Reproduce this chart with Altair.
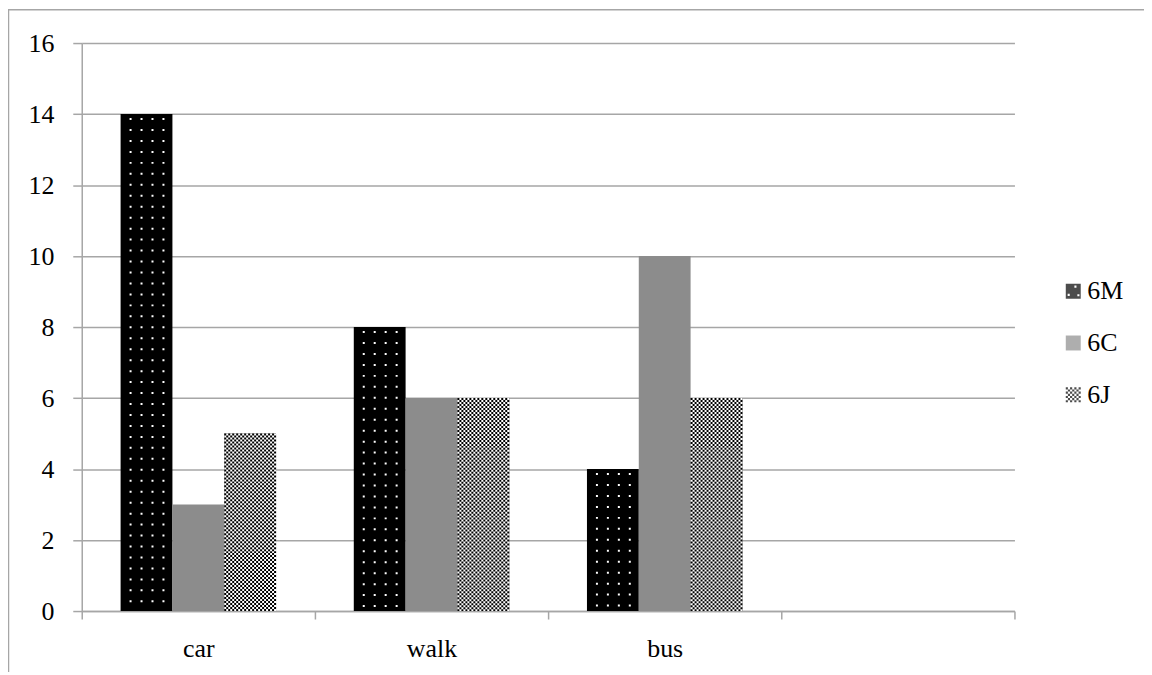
import altair as alt
import pandas as pd

categories = ["car", "walk", "bus"]
axis_categories = ["car", "walk", "bus", ""]
series = ["6M", "6C", "6J"]
values_6M = [14, 8, 4]
values_6C = [3, 6, 10]
values_6J = [5, 6, 6]
y_ticks = [0, 2, 4, 6, 8, 10, 12, 14, 16]
series_colors = ["#000000", "#8c8c8c", "#000000"]

rows = []
for s, vals in zip(series, [values_6M, values_6C, values_6J]):
    for c, v in zip(categories, vals):
        rows.append({"mode": c, "cls": s, "count": v, "base": 0})
df = pd.DataFrame(rows)

FONT = "Liberation Serif"
GRID = "#a6a6a6"
BAND = 234

# legend symbol shapes (normalized to [-1, 1])
def square_path(x, y, s, ccw=False):
    if ccw:
        return f"M{x:.3f},{y:.3f}V{y + s:.3f}H{x + s:.3f}V{y:.3f}Z"
    return f"M{x:.3f},{y:.3f}H{x + s:.3f}V{y + s:.3f}H{x:.3f}Z"

n = 7
cell = 2.0 / n
checker_path = "".join(
    square_path(-1 + i * cell, -1 + j * cell, cell)
    for i in range(n) for j in range(n) if (i + j) % 2 == 0
)
dotted_path = square_path(-1, -1, 2) + square_path(0.15, -0.75, 0.28, ccw=True) \
    + square_path(-0.75, 0.35, 0.28, ccw=True) + square_path(0.55, 0.4, 0.28, ccw=True)
shape_range = [dotted_path, "square", checker_path]

legend_def = dict(title=None, orient="none", legendX=982, legendY=236,
                  symbolSize=225, symbolStrokeWidth=0, labelFont=FONT,
                  labelFontSize=26, labelColor="#000000",
                  rowPadding=26, labelOffset=1, padding=0)

x_enc = alt.X(
    "mode:N",
    sort=axis_categories,
    scale=alt.Scale(domain=axis_categories, paddingInner=0, paddingOuter=0),
    axis=alt.Axis(title=None, labelAngle=0, grid=False, tickBand="extent",
                  tickSize=8, labelPadding=17, domainWidth=1.5, tickWidth=1.5,
                  labelFont=FONT, labelFontSize=26, labelColor="#000000"),
)
xoff = alt.XOffset("cls:N", sort=series,
                   scale=alt.Scale(domain=series, paddingInner=0, paddingOuter=0.75))
pix_off = alt.XOffset("px:Q", scale=alt.Scale(domain=[0, BAND], range=[0, BAND]))
y_enc = alt.Y(
    "count:Q",
    scale=alt.Scale(domain=[0, 16], nice=False),
    axis=alt.Axis(title=None, values=y_ticks, grid=True, tickSize=9,
                  labelPadding=19, domainWidth=1.5, tickWidth=1.5, gridWidth=1.5,
                  labelFont=FONT, labelFontSize=26, labelColor="#000000"),
)

bars = alt.Chart(df).mark_bar().encode(
    x=x_enc, xOffset=xoff, y=y_enc, y2="base:Q",
    fill=alt.Fill("cls:N", sort=series,
                  scale=alt.Scale(domain=series, range=series_colors),
                  legend=alt.Legend(**legend_def)),
)

# empty point layer that only contributes legend symbol shapes
legend_shapes = alt.Chart(df).transform_filter("false").mark_point(filled=True).encode(
    shape=alt.Shape("cls:N", sort=series,
                    scale=alt.Scale(domain=series, range=shape_range),
                    legend=alt.Legend(**legend_def)),
)

white_6j = alt.Chart(df).transform_filter(alt.datum.cls == "6J").mark_bar(color="white").encode(
    x=x_enc, xOffset=xoff, y=y_enc, y2="base:Q")

# checkerboard texture for 6J (2px columns of dashes, alternate phase)
def checker(parity):
    return alt.Chart(df).transform_filter(alt.datum.cls == "6J").transform_calculate(
        col="sequence(0, 26)"
    ).transform_flatten(["col"]).transform_filter(
        f"datum.col % 2 == {parity}"
    ).transform_calculate(
        px="144 + 2 * datum.col"
    ).mark_rule(
        color="black", strokeWidth=2, strokeDash=[2, 2],
        strokeDashOffset=(2 if parity else 0),
    ).encode(x=x_enc, xOffset=pix_off, y=y_enc, y2="base:Q")

# dotted texture for 6M
dots = alt.Chart(df).transform_filter(alt.datum.cls == "6M").transform_calculate(
    col="sequence(0, 4)"
).transform_flatten(["col"]).transform_calculate(
    px="49 + 11 * datum.col"
).mark_rule(
    color="white", strokeWidth=2, strokeDash=[2, 9], strokeDashOffset=-4,
).encode(x=x_enc, xOffset=pix_off, y=y_enc, y2="base:Q")

frame_df = pd.DataFrame({"k": [0]})
top_line = alt.Chart(frame_df).mark_rule(color=GRID, strokeWidth=1.5).encode(
    x=alt.value(-74), x2=alt.value(1080), y=alt.value(-33.5))
left_line = alt.Chart(frame_df).mark_rule(color=GRID, strokeWidth=1.5).encode(
    x=alt.value(-73.5), y=alt.value(-34), y2=alt.value(640))

chart = alt.layer(
    bars, legend_shapes, white_6j, checker(0), checker(1), dots, top_line, left_line
).resolve_scale(xOffset="independent").properties(
    width=936, height=570,
    autosize=alt.AutoSizeParams(type="none"),
    padding={"left": 74, "top": 34, "right": 130, "bottom": 60},
).configure_view(stroke=None).configure_axis(
    labelFont=FONT, labelFontSize=26, labelColor="#000000",
    domainColor=GRID, tickColor=GRID, gridColor=GRID,
)

chart.save("out.html", embed_options={"renderer": "svg", "actions": False})
